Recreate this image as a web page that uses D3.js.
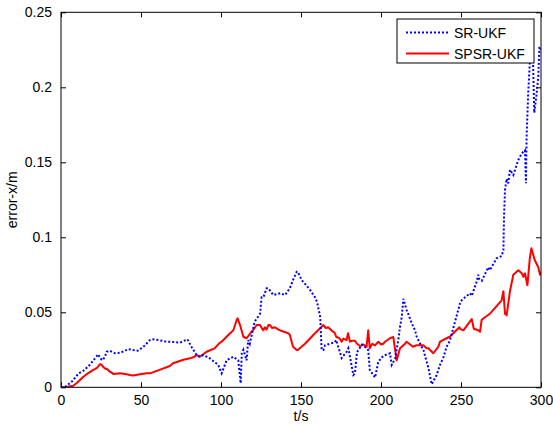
<!DOCTYPE html>
<html>
<head>
<meta charset="utf-8">
<script src="https://cdn.jsdelivr.net/npm/d3@7"></script>
<style>
  html, body { margin: 0; padding: 0; background: #fff; }
  svg { display: block; font-family: "Liberation Sans", Arial, Helvetica, sans-serif; }
</style>
</head>
<body>
<svg id="chart" width="553" height="426"></svg>
<script>
// Axis ticks
const xTicks = [0, 50, 100, 150, 200, 250, 300];
const yTicks = [0, 0.05, 0.1, 0.15, 0.2, 0.25];
const yTickLabels = ["0", "0.05", "0.1", "0.15", "0.2", "0.25"];

// SR-UKF error (time in s, error in m)
const srT = [0, 2, 3.5, 7, 11, 14, 18, 21, 23.3, 24.5, 26, 27.5, 28.5, 30.5, 33.7, 37, 41, 42, 45, 48,
  51.5, 55.6, 57, 60.8, 66, 68, 74.4, 79, 81.7, 84.8, 86.5, 89, 91, 93, 97, 98.3, 100.4, 103.5, 107.7, 110.8,
  112.3, 113, 114, 116, 117, 118, 121, 124.4, 125.4, 126.5, 128.5, 129.6, 132.7, 137, 140, 143, 145, 147.3, 148, 150.4,
  152.5, 155.6, 158.75, 160, 162, 162.9, 164, 165, 168, 171, 172, 175.4, 178.5, 179.6, 180.6, 182.7, 183.7, 185, 188.2, 191,
  192, 193, 196.3, 198.3, 201.4, 205.6, 206.7, 208.8, 210.8, 211.9, 213, 214, 216, 217, 219.2, 221.25, 222.3, 225.4, 226.5, 229.6,
  231.7, 233.7, 234.8, 236.9, 239, 241, 243, 246, 249.4, 250.4, 252.5, 255.6, 256.7, 259.8, 260.8, 261.5, 263, 267, 268, 272.3,
  275.4, 276.5, 276.9, 277.5, 278.5, 279.5, 280.6, 282.7, 285.8, 288, 290, 290.6, 291, 292, 293, 295, 295.8, 297.3, 298.3, 299, 300];
const srErr = [0, 0, 0.001, 0.004, 0.0093, 0.011, 0.015, 0.019, 0.022, 0.0193, 0.018, 0.0205, 0.0237, 0.0244, 0.0227, 0.023, 0.0249, 0.0255, 0.0249, 0.0244,
  0.027, 0.0315, 0.032, 0.0315, 0.0304, 0.0304, 0.0298, 0.032, 0.0267, 0.0215, 0.0204, 0.0215, 0.0204, 0.0193, 0.016, 0.0149, 0.0093, 0.018, 0.0204, 0.018,
  0.0027, 0.0227, 0.025, 0.018, 0.0315, 0.029, 0.0437, 0.049, 0.06, 0.06, 0.066, 0.066, 0.0615, 0.0627, 0.0615, 0.066, 0.0715, 0.077, 0.077, 0.0715,
  0.069, 0.065, 0.06, 0.057, 0.047, 0.0249, 0.0249, 0.028, 0.029, 0.03, 0.0315, 0.0195, 0.0237, 0.026, 0.0204, 0.0082, 0.0093, 0.0235, 0.0285, 0.026,
  0.0249, 0.0115, 0.0065, 0.017, 0.021, 0.0227, 0.0149, 0.019, 0.0315, 0.0404, 0.047, 0.059, 0.0515, 0.049, 0.0427, 0.038, 0.0337, 0.027, 0.0249, 0.013,
  0.002, 0.006, 0.0082, 0.015, 0.02, 0.027, 0.031, 0.0427, 0.056, 0.058, 0.06, 0.0627, 0.061, 0.0704, 0.075, 0.072, 0.071, 0.08, 0.078, 0.086,
  0.0875, 0.0915, 0.114, 0.1315, 0.139, 0.136, 0.145, 0.1415, 0.1515, 0.156, 0.158, 0.136, 0.167, 0.196, 0.216, 0.217, 0.183, 0.196, 0.207, 0.227, 0.225];

// SPSR-UKF error (time in s, error in m)
const spsrT = [0, 3, 5, 7.7, 10, 14, 17, 20, 22.5, 24.4, 25.4, 26.5, 27.5, 29, 30.6, 32.7, 37, 41, 43, 45,
  49.4, 53.5, 55.6, 62, 68, 70, 76.5, 80.6, 82.7, 84.8, 87, 91, 96, 99, 100.4, 104.6, 107.7, 109.8, 110.4, 111.9,
  114, 116, 119, 120, 122.3, 124.4, 125.5, 126.5, 127.5, 128.5, 129.6, 130.6, 132, 133.7, 136, 138, 142, 143, 145, 147.3,
  148, 152.5, 157.7, 158.75, 162.9, 164, 165.5, 167, 168, 169.5, 171, 172, 174, 175.4, 176.5, 178.5, 179.4, 180.6, 181.7, 183.7,
  185, 186.9, 189, 191, 192, 193, 194.5, 196.3, 198.3, 200, 201.4, 202.5, 205.6, 207.7, 209.8, 211.9, 213.5, 215, 216, 220,
  222.3, 226.5, 228.5, 229.6, 232.7, 235.8, 236.9, 241, 243, 249, 249.4, 251.5, 256.7, 258, 260.8, 261.9, 262.9, 268, 275.4, 276.5,
  277.5, 278.5, 280.6, 282.7, 285.8, 288, 289, 290, 291.5, 293, 294, 296, 298.3, 299.4, 300];
const spsrErr = [0, 0, 0.0005, 0.001, 0.003, 0.007, 0.0095, 0.0115, 0.013, 0.0155, 0.015, 0.0135, 0.0125, 0.012, 0.0104, 0.0089, 0.0093, 0.0087, 0.0082, 0.0078,
  0.0087, 0.0093, 0.0093, 0.0118, 0.0142, 0.016, 0.0184, 0.0193, 0.02, 0.0215, 0.0205, 0.0237, 0.026, 0.0295, 0.0304, 0.0349, 0.038, 0.0449, 0.046, 0.0415,
  0.0337, 0.0327, 0.037, 0.038, 0.0415, 0.0415, 0.0395, 0.038, 0.04, 0.0385, 0.0415, 0.0415, 0.0395, 0.04, 0.0385, 0.0375, 0.036, 0.035, 0.027, 0.0249,
  0.0249, 0.029, 0.0349, 0.036, 0.0404, 0.0415, 0.0395, 0.04, 0.039, 0.0375, 0.0365, 0.0337, 0.0327, 0.0304, 0.0325, 0.0315, 0.036, 0.0304, 0.031, 0.031,
  0.029, 0.0275, 0.0285, 0.027, 0.038, 0.026, 0.029, 0.028, 0.0304, 0.0285, 0.029, 0.0304, 0.0327, 0.0335, 0.018, 0.026, 0.0275, 0.029, 0.0304, 0.027,
  0.028, 0.028, 0.026, 0.026, 0.0227, 0.027, 0.0304, 0.0327, 0.0337, 0.04, 0.039, 0.038, 0.0455, 0.039, 0.038, 0.037, 0.045, 0.049, 0.058, 0.064,
  0.049, 0.048, 0.064, 0.075, 0.078, 0.076, 0.0737, 0.076, 0.068, 0.086, 0.0927, 0.085, 0.08, 0.075, 0.077];

const seriesNames = ["SR-UKF", "SPSR-UKF"];
const seriesColors = ["#0000ff", "#ff0000"];

const svg = d3.select("#chart");
const margin = { left: 61, right: 12, top: 12.3, bottom: 38.7 };
const W = 553, H = 426;
const plotW = W - margin.left - margin.right;
const plotH = H - margin.top - margin.bottom;

const x = d3.scaleLinear().domain([0, 300]).range([margin.left, margin.left + plotW]);
const y = d3.scaleLinear().domain([0, 0.25]).range([margin.top + plotH, margin.top]);

const g = svg.append("g");

// Data lines (clipped to the axes box)
svg.append("clipPath").attr("id", "plotClip")
  .append("rect").attr("x", margin.left).attr("y", margin.top - 1)
  .attr("width", plotW).attr("height", plotH + 1);

const line = d3.line().x(d => x(d[0])).y(d => y(d[1]));
const srData = srT.map((t, i) => [t, srErr[i]]);
const spsrData = spsrT.map((t, i) => [t, spsrErr[i]]);

const lines = g.append("g").attr("clip-path", "url(#plotClip)");
lines.append("path").datum(spsrData)
  .attr("d", line).attr("fill", "none")
  .attr("stroke", seriesColors[1]).attr("stroke-width", 2)
  .attr("stroke-linejoin", "round");
lines.append("path").datum(srData)
  .attr("d", line).attr("fill", "none")
  .attr("stroke", seriesColors[0]).attr("stroke-width", 2)
  .attr("stroke-dasharray", "2,2");

// Axes: ticks pointing inward on all four sides
const tickLen = 5;
const axBottom = d3.axisBottom(x).tickValues(xTicks).tickSizeInner(-tickLen).tickSizeOuter(0).tickPadding(8).tickFormat(d3.format("d"));
const axTop = d3.axisTop(x).tickValues(xTicks).tickSizeInner(-tickLen).tickSizeOuter(0).tickFormat("");
const axLeft = d3.axisLeft(y).tickValues(yTicks).tickSizeInner(-tickLen).tickSizeOuter(0).tickPadding(9)
  .tickFormat((d, i) => yTickLabels[i]);
const axRight = d3.axisRight(y).tickValues(yTicks).tickSizeInner(-tickLen).tickSizeOuter(0).tickFormat("");

function styleAxis(sel) {
  sel.select(".domain").remove();
  sel.selectAll(".tick line").attr("stroke", "#000").attr("stroke-width", 1);
  sel.selectAll(".tick text").attr("fill", "#000").style("font-size", "14px")
    .style("font-family", "'Liberation Sans', Arial, sans-serif");
}
g.append("g").attr("transform", `translate(0,${margin.top + plotH})`).call(axBottom).call(styleAxis);
g.append("g").attr("transform", `translate(0,${margin.top})`).call(axTop).call(styleAxis);
g.append("g").attr("transform", `translate(${margin.left},0)`).call(axLeft).call(styleAxis);
g.append("g").attr("transform", `translate(${margin.left + plotW},0)`).call(axRight).call(styleAxis);

// Axes box
g.append("rect").attr("x", margin.left).attr("y", margin.top)
  .attr("width", plotW).attr("height", plotH)
  .attr("fill", "none").attr("stroke", "#000").attr("stroke-width", 1);

// Axis titles
g.append("text").attr("x", x(150)).attr("y", 421)
  .attr("text-anchor", "middle").style("font-size", "14px").text("t/s");
g.append("text").attr("transform", `translate(17,${y(0.125)}) rotate(-90)`)
  .attr("text-anchor", "middle").style("font-size", "14px").text("error-x/m");

// Legend
const lg = g.append("g");
lg.append("rect").attr("x", 397).attr("y", 19).attr("width", 137).attr("height", 44)
  .attr("fill", "#fff").attr("stroke", "#000").attr("stroke-width", 1);
const legendRows = [32.5, 53.5];
seriesNames.forEach((name, i) => {
  const ln = lg.append("line").attr("x1", 406).attr("x2", 449)
    .attr("y1", legendRows[i]).attr("y2", legendRows[i])
    .attr("stroke", seriesColors[i]).attr("stroke-width", 2);
  if (i === 0) ln.attr("stroke-dasharray", "2,2");
  lg.append("text").attr("x", 454).attr("y", legendRows[i] + 5)
    .style("font-size", "14px").text(name);
});
</script>
</body>
</html>
